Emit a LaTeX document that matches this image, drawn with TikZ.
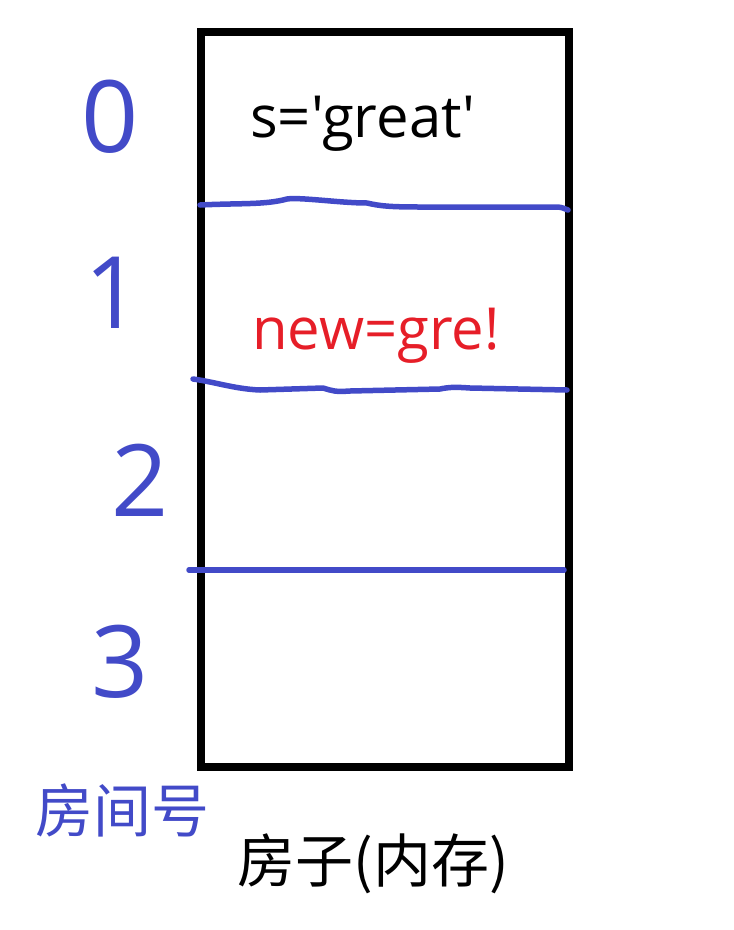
\documentclass[tikz,border=0pt]{standalone}
\usepackage{fontspec}
\setmainfont{Open Sans}
\newfontfamily\codefont{Open Sans}
\newfontfamily\cjkfont{Noto Sans CJK SC}
\definecolor{penblue}{RGB}{66,74,200}
\definecolor{txtred}{RGB}{230,30,40}
\begin{document}
\begin{tikzpicture}[x=1pt,y=-1pt,
  pen/.style={draw=penblue,line width=5.5pt,line cap=round,line join=round},
  digit/.style={text=penblue,font=\fontsize{100}{100}\selectfont,inner sep=0pt},
  code/.style={font=\codefont\fontsize{58}{58}\selectfont,inner sep=0pt,anchor=base west}]
\useasboundingbox (0,0) rectangle (734,930);
% house
\draw[line width=8pt] (201,32) rectangle (569,767);
% room separators
\coordinate (l1a) at (200,205);
\coordinate (l1b) at (568,210);
\draw[pen] (l1a) .. controls (240,203) and (265,205) .. (287,199)
  .. controls (300,197) and (340,203) .. (367,203)
  .. controls (380,206) and (390,207) .. (420,207)
  -- (557,207) .. controls (562,207) and (565,209) .. (l1b);
\coordinate (l2a) at (193,379);
\coordinate (l2b) at (567,390);
\draw[pen] (l2a) .. controls (215,382) and (235,389) .. (260,390)
  -- (323,388) .. controls (333,391) and (335,392) .. (350,391)
  -- (440,389) .. controls (450,387) and (455,387) .. (470,388)
  -- (l2b);
\coordinate (l3a) at (189,570);
\coordinate (l3b) at (564,570);
\draw[pen] (l3a) -- (l3b);
% contents
\node[code] (s) at (250,137) {s='great'};
\node[code,text=txtred] (n) at (252,349) {new=gre!};
% room numbers
\node[digit] (d0) at (110,117) {0};
\node[digit] (d1) at (113,293) {1};
\node[digit] (d2) at (140,480) {2};
\node[digit] (d3) at (120,662) {3};
% labels
\node[text=penblue,font=\cjkfont\fontsize{58}{58}\selectfont,inner sep=0pt] (rn) at (122,810) {房间号};
\node[font=\cjkfont\fontsize{58}{58}\selectfont,inner sep=0pt] (hs) at (373,864) {房子(内存)};
\end{tikzpicture}
\end{document}
